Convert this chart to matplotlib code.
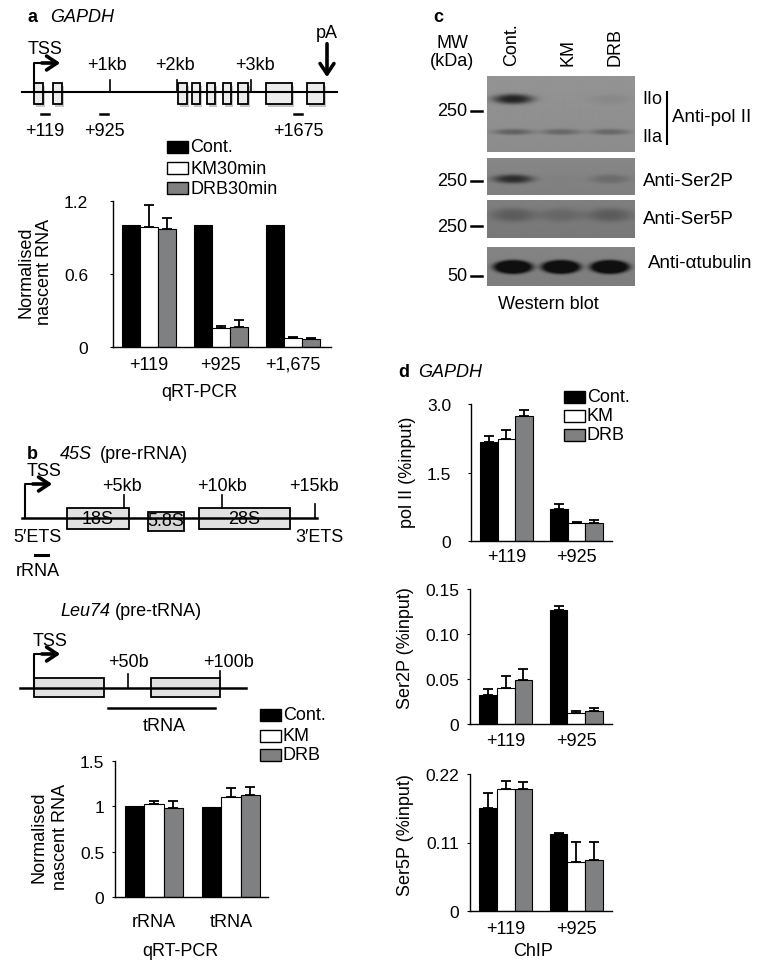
import matplotlib.pyplot as plt
import numpy as np
from matplotlib.patches import Rectangle

# Data
series = ['Cont.', 'KM', 'DRB']
series_a = ['Cont.', 'KM30min', 'DRB30min']

# a: GAPDH nascent RNA (qRT-PCR)
a_sites = ['+119', '+925', '+1,675']
a_cont = [1.0, 1.0, 1.0]
a_km = [0.99, 0.154, 0.074]
a_drb = [0.97, 0.164, 0.063]
a_km_err = [0.18, 0.015, 0.012]
a_drb_err = [0.09, 0.055, 0.015]

# b: rRNA / tRNA nascent RNA
b_sites = ['rRNA', 'tRNA']
b_cont = [1.0, 0.99]
b_km = [1.03, 1.105]
b_drb = [0.98, 1.125]
b_km_err = [0.025, 0.095]
b_drb_err = [0.08, 0.09]

# c: western blot band strength per lane (Cont., KM, DRB)
polII_IIo = [0.85, 0.0, 0.07]
polII_IIa = [0.35, 0.3, 0.3]
ser2p_band = [0.75, 0.02, 0.2]
ser5p_band = [0.3, 0.2, 0.3]
tubulin_band = [1.4, 1.4, 1.4]

# d: ChIP at GAPDH
d_sites = ['+119', '+925']
pol2_cont = [2.16, 0.70]
pol2_km = [2.23, 0.39]
pol2_drb = [2.73, 0.39]
pol2_cont_err = [0.13, 0.11]
pol2_km_err = [0.20, 0.02]
pol2_drb_err = [0.14, 0.07]

s2p_cont = [0.0326, 0.127]
s2p_km = [0.040, 0.0122]
s2p_drb = [0.049, 0.014]
s2p_cont_err = [0.0064, 0.004]
s2p_km_err = [0.013, 0.0018]
s2p_drb_err = [0.012, 0.004]

s5p_cont = [0.165, 0.124]
s5p_km = [0.196, 0.078]
s5p_drb = [0.196, 0.082]
s5p_cont_err = [0.025, 0.002]
s5p_km_err = [0.013, 0.033]
s5p_drb_err = [0.011, 0.029]

plt.rcParams['font.family'] = ['Liberation Sans', 'DejaVu Sans']
FS = 13
TS = 12.5
colors = ['black', 'white', '#7f8082']

W, H = 764, 970
fig = plt.figure(figsize=(W / 100, H / 100), dpi=100)

ov = fig.add_axes([0, 0, 1, 1])
ov.axis('off')


def px_axes(x0, y0, x1, y1):
    return fig.add_axes([x0 / W, 1 - y1 / H, (x1 - x0) / W, (y1 - y0) / H])


def bar_chart(box, cats, vals, errs, ylim, yticks, yticklabels, xlim, xpad, ypad):
    # pads given in pixels, converted to points
    ax = px_axes(*box)
    x = np.arange(len(cats))
    w = 0.25
    for i, (v, e) in enumerate(zip(vals, errs)):
        xi = x + (i - 1) * w
        ax.bar(xi, v, w, color=colors[i], edgecolor='black', linewidth=0.8, zorder=2)
        if e is not None:
            ax.errorbar(xi, v, yerr=[np.zeros(len(v)), e], fmt='none', ecolor='black',
                        elinewidth=1.3, capsize=3.5, capthick=1.3, zorder=1)
    ax.set_xlim(*xlim)
    ax.set_ylim(*ylim)
    ax.set_yticks(yticks)
    ax.set_yticklabels(yticklabels)
    ax.set_xticks(x)
    ax.set_xticklabels(cats)
    ax.spines['top'].set_visible(False)
    ax.spines['right'].set_visible(False)
    ax.spines['left'].set_linewidth(1)
    ax.spines['bottom'].set_linewidth(1)
    ax.tick_params(axis='y', labelsize=TS, length=2, pad=ypad * 0.72)
    ax.tick_params(axis='x', labelsize=FS, length=0, pad=xpad * 0.72)
    ax.patch.set_alpha(0)
    return ax


def legend(x, ys, labels):
    for y, lab, c in zip(ys, labels, colors):
        ov.add_patch(Rectangle((x, y - 6), 21, 12, facecolor=c, edgecolor='black', lw=1))
        ov.text(x + 23, y, lab, fontsize=FS, va='center', ha='left')


def exon(x0, x1, y0, y1, fc='#ececec', shadow=True):
    if shadow:
        ov.add_patch(Rectangle((x0 + 2, y0 + 3), x1 - x0, y1 - y0, facecolor='#9a9a9a',
                               edgecolor='none', alpha=0.55))
    ov.add_patch(Rectangle((x0, y0), x1 - x0, y1 - y0, facecolor=fc, edgecolor='black', lw=1.3))


def tss(x, yline, ytop, xend):
    ov.plot([x, x, xend - 6], [yline, ytop, ytop], color='black', lw=1.5)
    ov.annotate('', xy=(xend, ytop), xytext=(x + 5, ytop),
                arrowprops=dict(arrowstyle='->,head_length=0.75,head_width=0.5', lw=2.6, color='black'))


# ---------------- panel a diagram ----------------
ov.text(27, 18, 'a', fontsize=FS, fontweight='bold', va='center')
ov.text(50, 18, 'GAPDH', fontsize=FS, style='italic', va='center')
ov.plot([22, 337], [93, 93], color='black', lw=1.5)
for x0, x1 in [(34, 43), (53, 62), (178, 187), (192, 200), (207, 215), (223, 231),
               (238, 248), (266, 292), (307, 324)]:
    exon(x0, x1, 84, 105)
tss(34, 93, 64, 63)
ov.text(45, 50, 'TSS', fontsize=FS, ha='center', va='center')
for xt, xl, lab in [(110, 107, '+1kb'), (177, 175, '+2kb'), (251, 255, '+3kb')]:
    ov.plot([xt, xt], [81, 93], color='black', lw=1.2)
    ov.text(xl, 65, lab, fontsize=FS, ha='center', va='center')
ov.text(327, 33, 'pA', fontsize=FS, ha='center', va='center')
ov.annotate('', xy=(327, 81), xytext=(327, 42),
            arrowprops=dict(arrowstyle='->,head_length=0.75,head_width=0.5', lw=2.6, color='black'))
for xc, lab in [(45, '+119'), (104, '+925'), (298, '+1675')]:
    ov.plot([xc - 4, xc + 4], [115, 115], color='black', lw=1.8)
    ov.text(xc, 131, lab, fontsize=FS, ha='center', va='center')

# ---------------- panel a chart ----------------
bar_chart((113, 202, 331, 348), a_sites, [a_cont, a_km, a_drb], [None, a_km_err, a_drb_err],
          (0, 1.2), [0, 0.6, 1.2], ['0', '0.6', '1.2'], (-0.5, 2.53), 9, 22)
legend(167, [148, 169, 189], series_a)
ov.text(35, 272, 'Normalised\nnascent RNA', fontsize=FS, rotation=90, ha='center', va='center',
        linespacing=1.15)
ov.text(199, 393, 'qRT-PCR', fontsize=FS, ha='center', va='center')

# ---------------- panel b diagrams ----------------
ov.text(27, 455, 'b', fontsize=FS, fontweight='bold', va='center')
ov.text(60, 455, '45S', fontsize=FS, style='italic', va='center')
ov.text(100, 455, '(pre-rRNA)', fontsize=FS, va='center')
ov.plot([22, 317], [519, 519], color='black', lw=1.8)
exon(67, 129, 509, 530, fc='#e2e2e2', shadow=False)
exon(148, 184, 513, 532, fc='#d6d6d6', shadow=False)
exon(199, 290, 509, 530, fc='#e2e2e2', shadow=False)
ov.text(98, 520, '18S', fontsize=FS, ha='center', va='center')
ov.text(166, 522, '5.8S', fontsize=FS, ha='center', va='center')
ov.text(244, 520, '28S', fontsize=FS, ha='center', va='center')
tss(25, 519, 485, 55)
ov.text(44, 472, 'TSS', fontsize=FS, ha='center', va='center')
for xt, ytop, yb, xl, lab in [(124, 496, 509, 122, '+5kb'), (222, 496, 509, 222, '+10kb'),
                              (315, 505, 519, 314, '+15kb')]:
    ov.plot([xt, xt], [ytop, yb], color='black', lw=1.2)
    ov.text(xl, 487, lab, fontsize=FS, ha='center', va='center')
ov.text(37, 538, '5\u2032ETS', fontsize=FS, ha='center', va='center')
ov.text(319, 538, '3\u2032ETS', fontsize=FS, ha='center', va='center')
ov.plot([35, 48], [556, 556], color='black', lw=2.2)
ov.text(38, 572, 'rRNA', fontsize=FS, ha='center', va='center')

ov.text(60, 612, 'Leu74', fontsize=FS, style='italic', va='center')
ov.text(115, 612, '(pre-tRNA)', fontsize=FS, va='center')
ov.plot([20, 246], [689, 689], color='black', lw=1.8)
exon(34, 104, 679, 698, fc='#e2e2e2', shadow=False)
exon(151, 220, 679, 698, fc='#e2e2e2', shadow=False)
tss(34, 689, 655, 63)
ov.text(50, 642, 'TSS', fontsize=FS, ha='center', va='center')
ov.plot([128, 128], [675, 689], color='black', lw=1.2)
ov.text(128, 663, '+50b', fontsize=FS, ha='center', va='center')
ov.plot([220, 220], [672, 679], color='black', lw=1.2)
ov.text(228, 663, '+100b', fontsize=FS, ha='center', va='center')
ov.plot([108, 215], [709, 709], color='black', lw=1.8)
ov.text(164, 727, 'tRNA', fontsize=FS, ha='center', va='center')

# ---------------- panel b chart ----------------
bar_chart((115, 762, 268, 898), b_sites, [b_cont, b_km, b_drb], [None, b_km_err, b_drb_err],
          (0, 1.5), [0, 0.5, 1, 1.5], ['0', '0.5', '1', '1.5'], (-0.506, 1.48), 16, 8)
legend(260, [716, 737, 756], series)
ov.text(50, 837, 'Normalised\nnascent RNA', fontsize=FS, rotation=90, ha='center', va='center',
        linespacing=1.35)
ov.text(180, 952, 'qRT-PCR', fontsize=FS, ha='center', va='center')

# ---------------- panel c: western blot ----------------
lane_x = [513, 561, 610]


def blot(y0, y1, bg, bands):
    xs = np.linspace(487, 635, 300)
    ys = np.linspace(y0, y1, int((y1 - y0) * 3))
    X, Y = np.meshgrid(xs, ys)
    dark = np.zeros_like(X)
    for cy, sy, sx, p, levels in bands:
        for cx, lv in zip(lane_x, levels):
            r = ((X - cx) / sx) ** 2 + ((Y - cy) / sy) ** 2
            dark += lv * np.exp(-r ** p)
    shade = bg - 0.03 * (Y - y0) / (y1 - y0)
    img = shade - np.clip(dark, 0, 1) * (shade - 0.06)
    ov.imshow(img, cmap='gray', vmin=0, vmax=1, extent=(487, 635, y1, y0),
              aspect='auto', interpolation='bilinear')


blot(77, 153, 0.58, [(100, 5, 20, 1.5, polII_IIo), (133, 3, 20, 1.5, polII_IIa)])
blot(159, 196, 0.53, [(180, 4.5, 20, 1.5, ser2p_band)])
blot(201, 239, 0.50, [(216, 7, 23, 1.5, ser5p_band)])
blot(248, 287, 0.52, [(268, 7, 20, 2.5, tubulin_band)])

ov.text(433, 18, 'c', fontsize=FS, fontweight='bold', va='center')
ov.text(452, 43, 'MW', fontsize=FS, ha='center', va='center')
ov.text(452, 62, '(kDa)', fontsize=FS, ha='center', va='center')
for xc, lab in zip([512, 568, 615], series):
    ov.text(xc, 66, lab, fontsize=FS, rotation=90, ha='center', va='bottom')
for y, lab in [(112, '250'), (182, '250'), (227, '250'), (277, '50')]:
    ov.text(467, y, lab, fontsize=FS, ha='right', va='center')
    ov.plot([471, 482], [y, y], color='black', lw=1.8)
ov.text(642, 100, 'IIo', fontsize=FS, va='center')
ov.text(642, 137, 'IIa', fontsize=FS, va='center')
ov.plot([667, 667], [93, 145], color='black', lw=1.5)
ov.text(672, 118, 'Anti-pol II', fontsize=FS + 0.5, va='center')
ov.text(643, 181, 'Anti-Ser2P', fontsize=FS + 0.5, va='center')
ov.text(643, 220, 'Anti-Ser5P', fontsize=FS + 0.5, va='center')
ov.text(648, 264, 'Anti-\u03b1tubulin', fontsize=FS + 0.5, va='center')
ov.text(548, 305, 'Western blot', fontsize=FS, ha='center', va='center')

# ---------------- panel d: ChIP ----------------
ov.text(398, 373, 'd', fontsize=FS, fontweight='bold', va='center')
ov.text(418, 373, 'GAPDH', fontsize=FS, style='italic', va='center')
bar_chart((471, 405, 612, 542), d_sites, [pol2_cont, pol2_km, pol2_drb],
          [pol2_cont_err, pol2_km_err, pol2_drb_err],
          (0, 3.0), [0, 1.5, 3.0], ['0', '1.5', '3.0'], (-0.507, 1.507), 7, 17)
legend(564, [398, 417, 436], series)
ov.text(407, 472, 'pol II (%input)', fontsize=FS, rotation=90, ha='center', va='center')

bar_chart((470, 590, 612, 725), d_sites, [s2p_cont, s2p_km, s2p_drb],
          [s2p_cont_err, s2p_km_err, s2p_drb_err],
          (0, 0.15), [0, 0.05, 0.10, 0.15], ['0', '0.05', '0.10', '0.15'], (-0.507, 1.507), 8, 8)
ov.text(405, 648, 'Ser2P (%input)', fontsize=FS, rotation=90, ha='center', va='center')

bar_chart((470, 775, 612, 912), d_sites, [s5p_cont, s5p_km, s5p_drb],
          [s5p_cont_err, s5p_km_err, s5p_drb_err],
          (0, 0.22), [0, 0.11, 0.22], ['0', '0.11', '0.22'], (-0.507, 1.507), 9, 8)
ov.text(405, 835, 'Ser5P (%input)', fontsize=FS, rotation=90, ha='center', va='center')
ov.text(533, 952, 'ChIP', fontsize=FS, ha='center', va='center')

ov.set_xlim(0, W)
ov.set_ylim(H, 0)

fig.savefig('out.png', dpi=100)
